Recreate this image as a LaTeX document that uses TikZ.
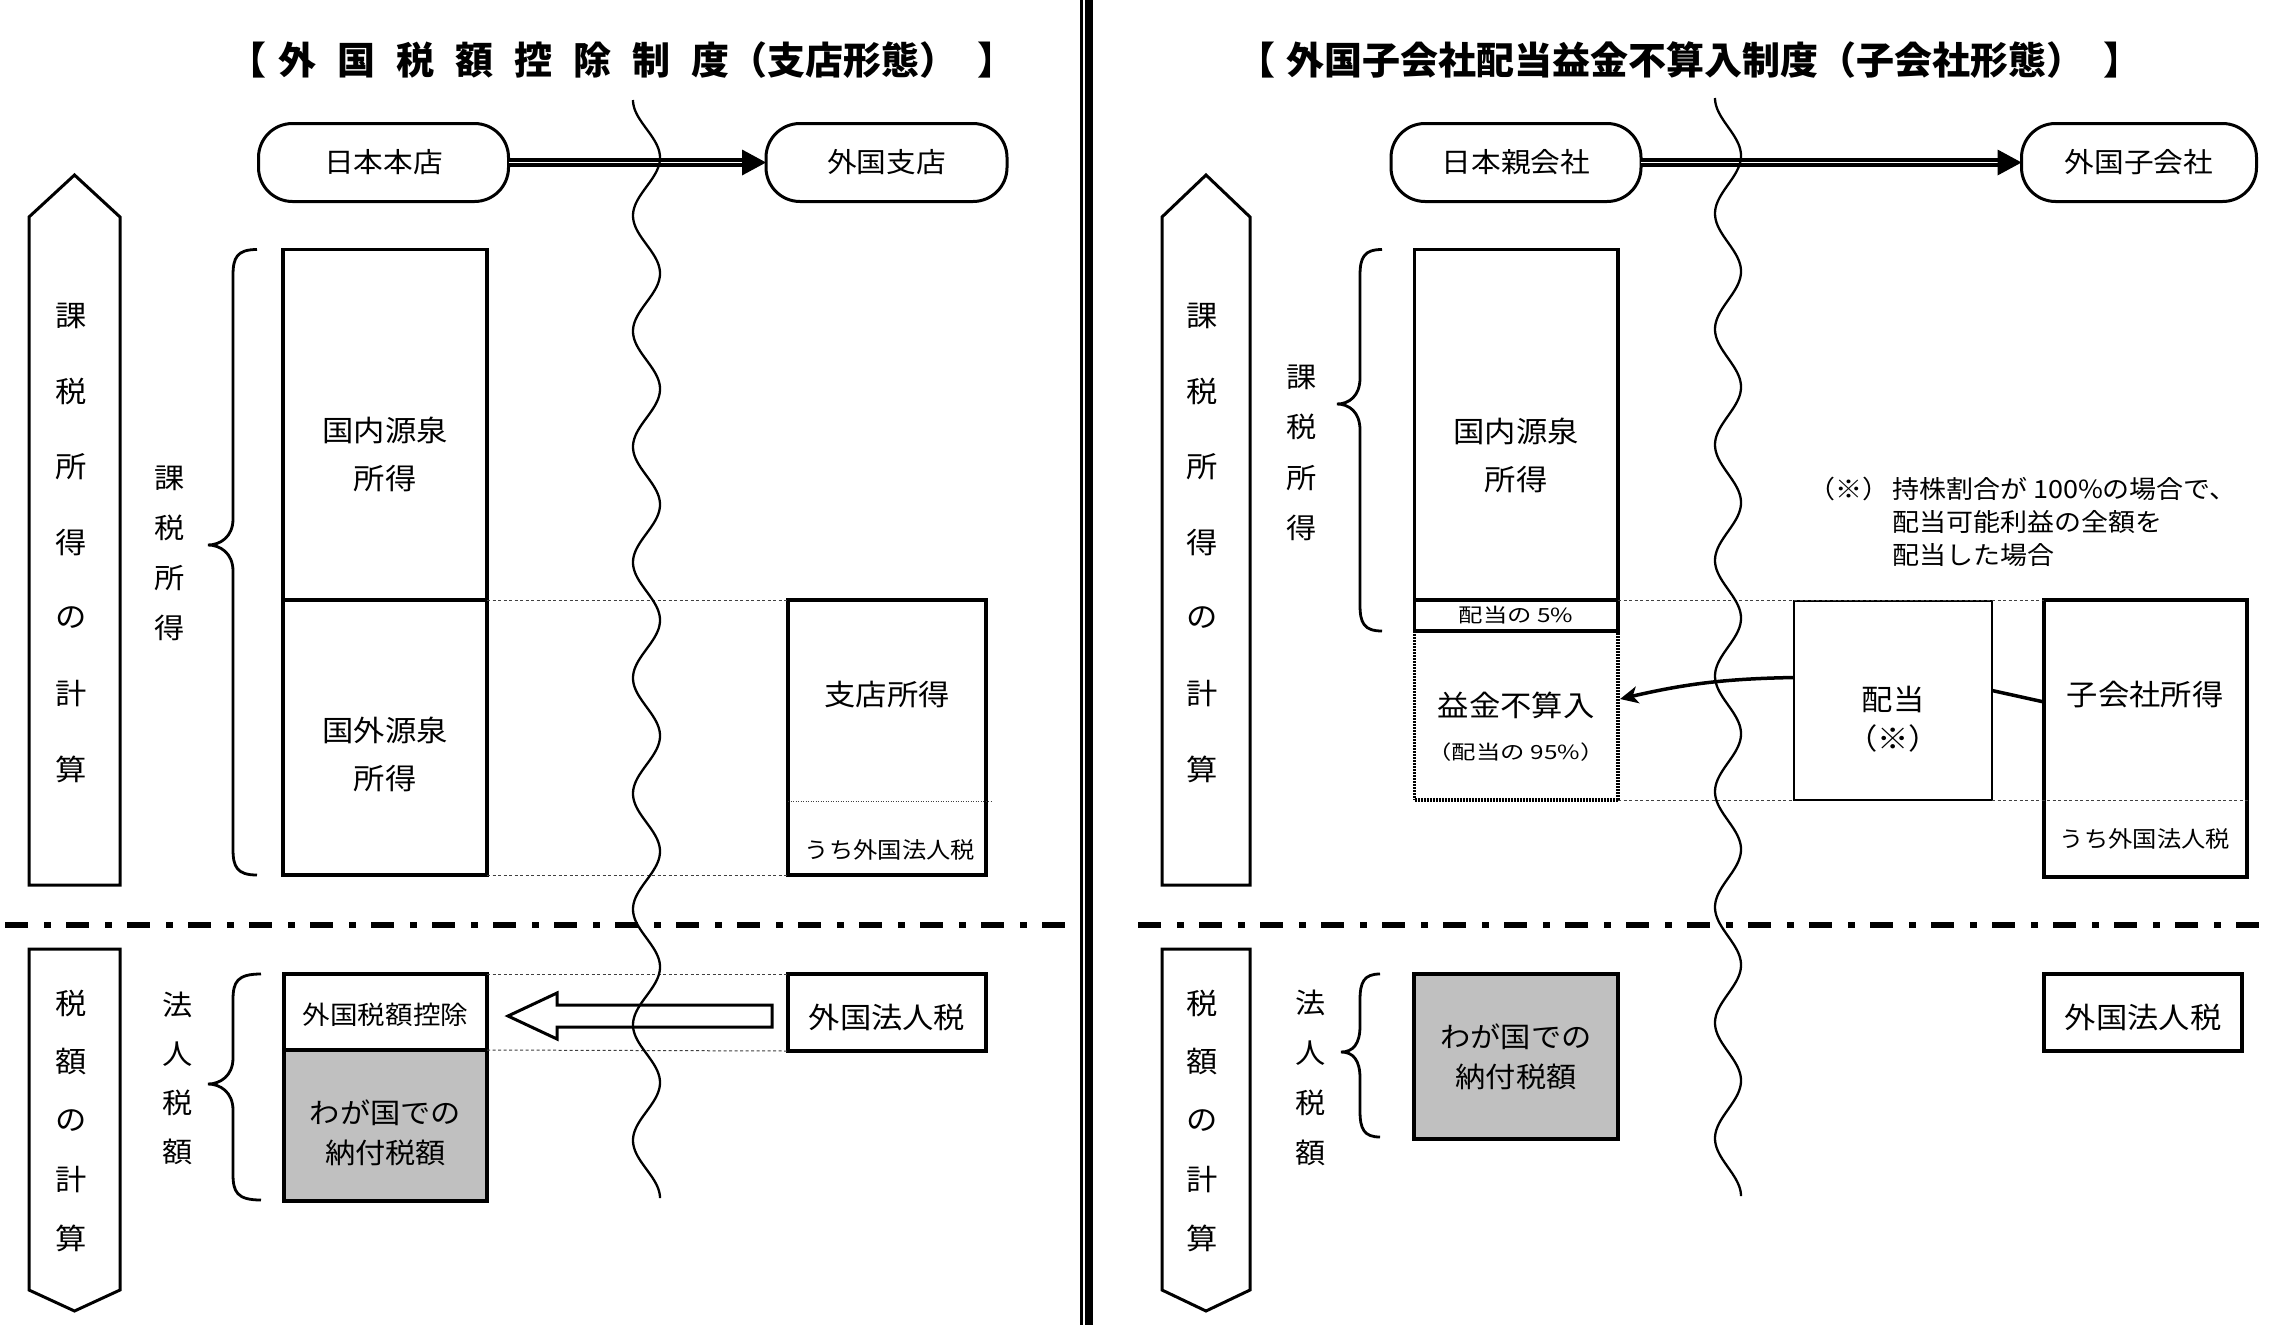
\documentclass[tikz,border=0pt]{standalone}
\usepackage{fontspec}
\setmainfont{Noto Sans CJK JP}[FakeStretch=1.08]
\newfontfamily\jpt{Noto Sans CJK JP}
\newfontfamily\jpw{Noto Sans CJK JP}[FakeStretch=1.25]
\usetikzlibrary{calc,arrows.meta}
\definecolor{payg}{RGB}{192,192,192}
\newcommand\mybrace[6]{%
  \draw[brc] (#1,#4) .. controls (#2+4,#4) and (#2,#4+8) .. (#2,#4+26)
    -- (#2,#5-26) .. controls (#2,#5-8) and (#3+12,#5) .. (#3,#5)
    .. controls (#3+12,#5) and (#2,#5+8) .. (#2,#5+26)
    -- (#2,#6-26) .. controls (#2,#6-8) and (#2+4,#6) .. (#1,#6);}
\begin{document}
\begin{tikzpicture}[x=1pt,y=-1pt,
  every node/.style={inner sep=0pt,outer sep=0pt},
  ttl/.style={font=\jpt\fontsize{38}{42}\selectfont\bfseries},
  capsule/.style={draw,line width=3pt,rounded corners=34pt,minimum height=78pt,
    font=\fontsize{27.5}{30}\selectfont},
  bx/.style={draw,line width=3.5pt},
  bxd/.style={draw,line width=3.5pt,dash pattern=on 2pt off 1pt},
  bxt/.style={draw,line width=1.3pt},
  txt/.style={align=center,font=\fontsize{29}{48}\selectfont},
  txtb/.style={align=center,font=\fontsize{28}{40}\selectfont},
  txts/.style={font=\fontsize{25.5}{30}\selectfont},
  txtu/.style={font=\fontsize{22.5}{30}\selectfont},
  txtw/.style={font=\jpw\fontsize{19.5}{24}\selectfont},
  note/.style={align=left,anchor=north west,font=\fontsize{25}{33}\selectfont},
  vlab/.style={font=\fontsize{29}{30}\selectfont},
  slab/.style={font=\fontsize{28}{30}\selectfont},
  pent/.style={draw,line width=3pt,line join=miter},
  brc/.style={draw,line width=2.8pt},
  dbl/.style={line width=3.8pt,double,double distance=1.6pt},
  dashln/.style={line width=1pt,black!75,dash pattern=on 3pt off 2.5pt},
  dotln/.style={line width=1pt,black!75,dash pattern=on 1pt off 1.5pt},
  dashdot/.style={line width=6pt,dash pattern=on 23pt off 16pt on 7pt off 15pt},
  wave/.style={line width=2.3pt},
  curarr/.style={line width=3.5pt,-{Stealth[length=18pt,width=17pt,inset=5pt]}},
  hollow/.style={draw,line width=3pt,line join=miter}
]
\useasboundingbox (0,0) rectangle (2274,1325);
\fill[white] (0,0) rectangle (2274,1325);

% ---------- centre divider ----------
\draw[line width=3.3pt] (1081.7,0) -- (1081.7,1325);
\draw[line width=7.7pt] (1088.9,0) -- (1088.9,1325);

% ---------- dash-dot separators ----------
\draw[dashdot] (5,924.7) -- (1070,924.7);
\draw[dashdot] (1138,924.7) -- (2274,924.7);

% ================= LEFT =================
\node[ttl] (t1) at (622,60) {【\hspace{12pt}外\hspace{21pt}国\hspace{21pt}税\hspace{21pt}額\hspace{21pt}控\hspace{21pt}除\hspace{21pt}制\hspace{21pt}度（支店形態）\hspace{20pt}】};

\node[capsule,minimum width=250pt] (hq) at (383.5,162.5) {日本本店};
\node[capsule,minimum width=241pt] (br) at (886.5,162.5) {外国支店};
\draw[dbl] (hq.east) -- ($(br.west)+(-22,0)$);
\fill ($(br.west)+(-24,-13)$) -- ($(br.west)+(-24,13)$) -- (br.west) -- cycle;

\draw[pent] (29,217) -- (74.5,175) -- (120,217) -- (120,885) -- (29,885) -- cycle;
\foreach \c [count=\i from 0] in {課,税,所,得,の,計,算}
  \node[vlab] (ua\i) at (71,{316+75.5*\i}) {\c};
\draw[pent] (29,949) -- (120,949) -- (120,1290) -- (74.5,1311) -- (29,1290) -- cycle;
\foreach \c [count=\i from 0] in {税,額,の,計,算}
  \node[vlab] (da\i) at (71,{1003+58.75*\i}) {\c};

\mybrace{257}{233}{208}{249.5}{545}{875}
\foreach \c [count=\i from 0] in {課,税,所,得}
  \node[slab] (ub\i) at (170,{478+50*\i}) {\c};
\mybrace{261}{233}{208}{974}{1084}{1200}
\foreach \c [count=\i from 0] in {法,人,税,額}
  \node[slab] (db\i) at (178,{1005+49*\i}) {\c};

\node[bx,minimum width=204pt,minimum height=350.5pt] (dom1) at (385,424.75) {};
\node[txt] (dom1t) at (385,454) {国内源泉\\所得};
\node[bx,minimum width=204pt,minimum height=275pt] (fr1) at (385,737.5) {};
\node[txt] (fr1t) at (385,754.5) {国外源泉\\所得};
\node[bx,minimum width=198pt,minimum height=275pt] (brinc) at (887,737.5) {};
\node[txt] (brinct) at (887,695) {支店所得};
\coordinate (bd1) at (788,801);
\coordinate (bd2) at (991,801);
\draw[dotln] (bd1) -- (bd2);
\node[txtu] (brtax) at (890,850) {うち外国法人税};
\draw[dashln] (dom1.south east) -- (brinc.north west);
\draw[dashln] (fr1.south east) -- (brinc.south west);

\node[bx,minimum width=203pt,minimum height=76pt] (ftc) at (385.5,1012) {};
\node[txts] (ftct) at (385.5,1015) {外国税額控除};
\node[bx,fill=payg,minimum width=203pt,minimum height=151pt] (pay1) at (385.5,1125.5) {};
\node[txtb] (pay1t) at (385.5,1133) {わが国での\\納付税額};
\node[bx,minimum width=198pt,minimum height=77pt] (ft1) at (887,1012.5) {};
\node[txt] (ft1t) at (887,1017) {外国法人税};
\draw[dashln] (ftc.north east) -- (ft1.north west);
\draw[dashln] (ftc.south east) -- (ft1.south west);
\draw[hollow] (772,1005) -- (557,1005) -- (557,993) -- (508,1016) -- (557,1039) -- (557,1027) -- (772,1027) -- cycle;

% ================= RIGHT =================
\node[ttl] (t2) at (1689,60) {【\hspace{12pt}外国子会社配当益金不算入制度（子会社形態）\hspace{18pt}】};

\node[capsule,minimum width=250pt] (pc) at (1516,162.5) {日本親会社};
\node[capsule,minimum width=235pt] (sub) at (2139,162.5) {外国子会社};
\draw[dbl] (pc.east) -- ($(sub.west)+(-22,0)$);
\fill ($(sub.west)+(-24,-13)$) -- ($(sub.west)+(-24,13)$) -- (sub.west) -- cycle;

\draw[pent] (1162,217) -- (1206,175) -- (1250,217) -- (1250,885) -- (1162,885) -- cycle;
\foreach \c [count=\i from 0] in {課,税,所,得,の,計,算}
  \node[vlab] (ra\i) at (1202,{316+75.5*\i}) {\c};
\draw[pent] (1162,949) -- (1250,949) -- (1250,1290) -- (1206,1311) -- (1162,1290) -- cycle;
\foreach \c [count=\i from 0] in {税,額,の,計,算}
  \node[vlab] (rd\i) at (1202,{1003+58.75*\i}) {\c};

\mybrace{1382}{1360}{1337}{249.5}{404}{631}
\foreach \c [count=\i from 0] in {課,税,所,得}
  \node[slab] (rb\i) at (1302,{377+50.3*\i}) {\c};
\mybrace{1380}{1360}{1341}{974}{1052}{1137}
\foreach \c [count=\i from 0] in {法,人,税,額}
  \node[slab] (rc\i) at (1311,{1003+50*\i}) {\c};

\node[bx,minimum width=203.5pt,minimum height=350.5pt] (dom2) at (1516.25,424.75) {};
\node[txt] (dom2t) at (1516,455) {国内源泉\\所得};
\node[bx,minimum width=203.5pt,minimum height=31pt] (five) at (1516.25,615.5) {};
\node[txtw] (fivet) at (1516,615.5) {配当の 5\%};
\node[bxd,minimum width=203.5pt,minimum height=169pt] (excl) at (1516.25,715.5) {};
\draw[line width=3.5pt] (five.south west) -- (five.south east);
\node[txt] (exclt) at (1516,705) {益金不算入};
\node[txtw] (exclt2) at (1516,752) {（配当の 95\%）};

\node[bxt,minimum width=198pt,minimum height=199pt] (div) at (1893,700.5) {};
\node[txt,font=\fontsize{29}{39}\selectfont] (divt) at (1893,719) {配当\\（※）};
\node[bx,minimum width=203pt,minimum height=277pt] (sinc) at (2145.5,738.5) {};
\node[txt] (sinct) at (2145,695) {子会社所得};
\node[txtu] (stax) at (2145,839) {うち外国法人税};
\coordinate (dend) at (2250,800);
\draw[dashln] (five.north east) -- (sinc.north west);
\draw[dashln] (excl.south east) -- (dend);
\draw[bxt] (div.south west) -- (div.south east);

\draw[curarr] ($(div.west)+(0,-23)$) to[bend right=6] ($(excl.east)+(2,-16.5)$);
\draw[line width=3.5pt] ($(div.east)+(0,-10)$) -- ($(sinc.west)+(0,-36.5)$);

\node[note] (nt) at (1808,477) {（※）\hspace{3pt}持株割合が 100\%の場合で、\\\phantom{（※）}\hspace*{3pt}配当可能利益の全額を\\\phantom{（※）}\hspace*{3pt}配当した場合};

\node[bx,fill=payg,minimum width=204pt,minimum height=165pt] (pay2) at (1516,1056.5) {};
\node[txtb] (pay2t) at (1516,1057) {わが国での\\納付税額};
\node[bx,minimum width=198pt,minimum height=77pt] (ft2) at (2143,1012.5) {};
\node[txt] (ft2t) at (2143,1017) {外国法人税};

% ---------- border waves ----------
\draw[wave] plot[domain=0:19,samples=500,smooth] ({646.5-13.5*cos(180*\x)},{100+57.8*\x});
\draw[wave] plot[domain=0:19,samples=500,smooth] ({1728-13*cos(180*\x)},{98+57.8*\x});
\end{tikzpicture}
\end{document}
